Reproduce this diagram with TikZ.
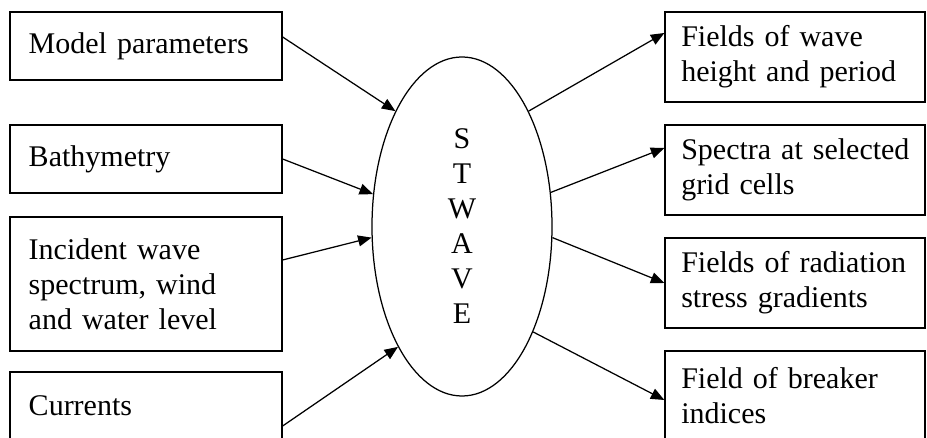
\documentclass[tikz,border=0pt]{standalone}
\usepackage{fontspec}
\setmainfont{Liberation Serif}
\usetikzlibrary{shapes.geometric,arrows.meta,calc}
\tikzset{
  box/.style={draw, line width=0.5pt, rectangle, inner sep=0pt,
    align=left, font=\fontsize{12}{14}\selectfont},
  lbox/.style={box, inner xsep=7.5pt, minimum width=108.8pt, text width=93.8pt},
  rbox/.style={box, inner xsep=6.5pt, minimum width=104pt, text width=91pt},
  hub/.style={draw, line width=0.5pt, ellipse, inner sep=0pt, minimum width=72pt,
    minimum height=135.6pt, align=center, font=\fontsize{12}{14}\selectfont},
  link/.style={line width=0.5pt, -{Triangle[length=5.4pt,width=4.4pt]}}
}
\begin{document}
\begin{tikzpicture}[x=0.4pt,y=-0.4pt]
\useasboundingbox (0,0) rectangle (927,438);
\clip (0,0) rectangle (927,438);
\node[lbox, minimum height=27.2pt] (l1) at (146,46) {Model parameters};
\node[lbox, minimum height=27.2pt] (l2) at (146,159) {Bathymetry};
\node[lbox, minimum height=53.6pt] (l3) at (146,284) {Incident wave\\spectrum, wind\\and water level};
\node[lbox, minimum height=27.2pt] (l4) at (146,406) {Currents};
\node[rbox, minimum height=36pt] (r1) at (795,57) {Fields of wave\\height and period};
\node[rbox, minimum height=36pt] (r2) at (795,170) {\mbox{Spectra at selected}\\grid cells};
\node[rbox, minimum height=36pt] (r3) at (795,283) {Fields of radiation\\stress gradients};
\node[rbox, minimum height=36pt] (r4) at (795,396) {Field of breaker\\indices};
\node[hub] (e) at (462,226.5) {S\\T\\W\\A\\V\\E};
\draw[link] ($(l1.east)+(0,-9)$) -- (e.120);
\draw[link] (l2.east) -- (e.160);
\draw[link] ($(l3.east)+(0,-24)$) -- (e.187);
\draw[link] ($(l4.east)+(0,20)$) -- (e.242);
\draw[link] (e.60) -- ($(r1.west)+(0,-24)$);
\draw[link] (e.21) -- ($(r2.west)+(0,-22)$);
\draw[link] (e.-7) -- (r3.west);
\draw[link] (e.-56) -- ($(r4.west)+(0,4)$);
\end{tikzpicture}
\end{document}
